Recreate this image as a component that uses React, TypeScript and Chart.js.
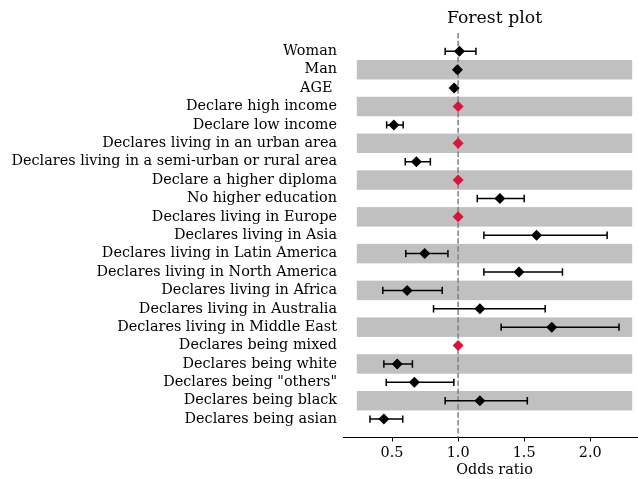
import React, { useEffect, useRef } from "react";
import { Chart, registerables } from "chart.js";

Chart.register(...registerables);

const categories = [
  "Woman",
  "Man",
  "AGE ",
  "Declare high income",
  "Declare low income",
  "Declares living in an urban area",
  "Declares living in a semi-urban or rural area",
  "Declare a higher diploma",
  "No higher education",
  "Declares living in Europe",
  "Declares living in Asia",
  "Declares living in Latin America",
  "Declares living in North America",
  "Declares living in Africa",
  "Declares living in Australia",
  "Declares living in Middle East",
  "Declares being mixed",
  "Declares being white",
  'Declares being "others"',
  "Declares being black",
  "Declares being asian",
];

const oddsRatios = [1.01, 0.995, 0.97, 1.0, 0.514, 1.0, 0.684, 1.0, 1.316, 1.0, 1.594, 0.747, 1.461, 0.614, 1.165, 1.709, 1.0, 0.539, 0.669, 1.165, 0.438];
const lowerCI = [0.902, 0.985, 0.96, 1.0, 0.459, 1.0, 0.6, 1.0, 1.145, 1.0, 1.195, 0.604, 1.195, 0.43, 0.814, 1.326, 1.0, 0.438, 0.456, 0.902, 0.333];
const upperCI = [1.135, 1.005, 0.98, 1.0, 0.584, 1.0, 0.79, 1.0, 1.5, 1.0, 2.128, 0.923, 1.79, 0.88, 1.659, 2.218, 1.0, 0.654, 0.968, 1.524, 0.581];
const isReference = [false, false, false, true, false, true, false, true, false, true, false, false, false, false, false, false, true, false, false, false, false];
const xTicks = [0.5, 1.0, 1.5, 2.0];
const referenceValue = 1.0;

const FONT = "'DejaVu Serif', serif";

export default function App() {
  const canvasRef = useRef<HTMLCanvasElement | null>(null);

  useEffect(() => {
    const canvas = canvasRef.current;
    if (!canvas) return;

    const bandLeft = Math.min(...lowerCI) - 0.1;
    const bandRight = Math.max(...upperCI) + 0.1;
    const span = bandRight - bandLeft;
    const xMin = bandLeft - 0.05 * span;
    const xMax = bandRight + 0.05 * span;
    const bandHalf = 0.53;

    const forestPlugin = {
      id: "forestDecor",
      beforeDatasetsDraw(chart: any) {
        const { ctx, chartArea } = chart;
        const x = chart.scales.x;
        const y = chart.scales.y;
        ctx.save();
        // alternating bands
        ctx.fillStyle = "#c0c0c0";
        const l = x.getPixelForValue(bandLeft);
        const r = x.getPixelForValue(bandRight);
        categories.forEach((_, i) => {
          if (i % 2 === 1) {
            const t = y.getPixelForValue(i - bandHalf);
            const b = y.getPixelForValue(i + bandHalf);
            ctx.fillRect(l, Math.min(t, b), r - l, Math.abs(b - t));
          }
        });
        // reference line
        const rx = x.getPixelForValue(referenceValue);
        ctx.strokeStyle = "#808080";
        ctx.lineWidth = 1.5;
        ctx.setLineDash([5.5, 2.4]);
        ctx.beginPath();
        ctx.moveTo(rx, chartArea.top);
        ctx.lineTo(rx, chartArea.bottom);
        ctx.stroke();
        ctx.setLineDash([]);
        // error bars
        ctx.strokeStyle = "#000000";
        ctx.lineWidth = 1.5;
        const cap = 3.7;
        categories.forEach((_, i) => {
          if (isReference[i]) return;
          const lo = lowerCI[i];
          const hi = upperCI[i];
          if (lo == null || hi == null) return;
          const py = y.getPixelForValue(i);
          const x1 = x.getPixelForValue(lo);
          const x2 = x.getPixelForValue(hi);
          ctx.beginPath();
          ctx.moveTo(x1, py);
          ctx.lineTo(x2, py);
          ctx.moveTo(x1, py - cap);
          ctx.lineTo(x1, py + cap);
          ctx.moveTo(x2, py - cap);
          ctx.lineTo(x2, py + cap);
          ctx.stroke();
        });
        ctx.restore();
      },
    };

    const blackPts: { x: number; y: number }[] = [];
    const redPts: { x: number; y: number }[] = [];
    oddsRatios.forEach((v, i) => {
      (isReference[i] ? redPts : blackPts).push({ x: v, y: i });
    });

    const chart = new Chart(canvas, {
      type: "scatter",
      data: {
        datasets: [
          {
            data: blackPts,
            pointStyle: "rectRot",
            pointRadius: 5.5,
            pointBackgroundColor: "#000000",
            pointBorderWidth: 0,
            pointBorderColor: "#000000",
          },
          {
            data: redPts,
            pointStyle: "rectRot",
            pointRadius: 5.5,
            pointBackgroundColor: "#dc143c",
            pointBorderWidth: 0,
            pointBorderColor: "#dc143c",
          },
        ],
      },
      options: {
        animation: false,
        responsive: false,
        devicePixelRatio: 1,
        layout: { padding: 0, autoPadding: false },
        plugins: {
          legend: { display: false },
          tooltip: { enabled: false },
          title: {
            display: true,
            text: "Forest plot",
            fullSize: false,
            color: "#000000",
            font: { family: FONT, size: 17.3, weight: "normal", lineHeight: 1.2 },
            padding: { top: 7.9, bottom: 4.3 },
          },
        },
        scales: {
          x: {
            type: "linear",
            min: xMin,
            max: xMax,
            afterBuildTicks: (scale: any) => {
              scale.ticks = xTicks.map((v) => ({ value: v }));
            },
            afterFit: (scale: any) => {
              scale.height = 41.5;
            },
            grid: {
              display: true,
              drawOnChartArea: false,
              drawTicks: true,
              tickLength: 4,
              tickWidth: 1,
              tickColor: "#000000",
            },
            border: { display: true, color: "#000000", width: 1 },
            ticks: {
              color: "#000000",
              padding: 3.2,
              font: { family: FONT, size: 14.4, lineHeight: 1.2 },
              callback: (v: any) => Number(v).toFixed(1),
            },
            title: {
              display: true,
              text: "Odds ratio",
              color: "#000000",
              font: { family: FONT, size: 14.4, lineHeight: 1.2 },
              padding: { top: 0, bottom: 0 },
            },
          },
          y: {
            type: "linear",
            reverse: true,
            min: -1,
            max: 21,
            afterBuildTicks: (scale: any) => {
              scale.ticks = categories.map((_, i) => ({ value: i }));
            },
            afterFit: (scale: any) => {
              scale.width = 343;
            },
            grid: { display: false, drawTicks: false },
            border: { display: false },
            ticks: {
              autoSkip: false,
              color: "#000000",
              padding: 6,
              font: { family: FONT, size: 14.4, lineHeight: 1.2 },
              callback: (v: any) => categories[Number(v)] ?? "",
            },
          },
        },
      },
      plugins: [forestPlugin],
    });

    return () => chart.destroy();
  }, []);

  return (
    <div
      style={{
        position: "fixed",
        left: 0,
        top: 0,
        width: 638,
        height: 479,
        overflow: "hidden",
        background: "#ffffff",
      }}
    >
      <canvas ref={canvasRef} width={646} height={479} style={{ width: 646, height: 479, display: "block" }} />
    </div>
  );
}
